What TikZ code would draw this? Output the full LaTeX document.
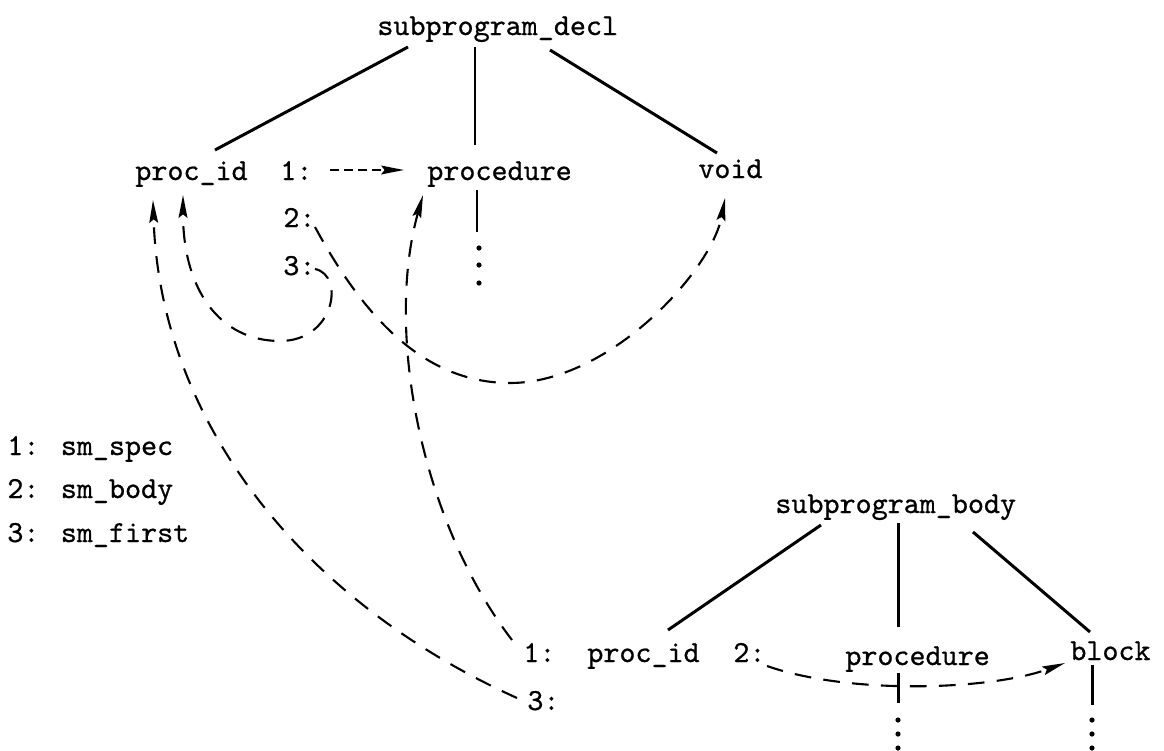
\documentclass[tikz,border=0pt]{standalone}
\usepackage{fontspec}
\usetikzlibrary{arrows.meta}
% slightly heavier typewriter face for the labels
\newfontfamily\typface{lmmono10-regular.otf}[FakeBold=0.7]
\begin{document}
\begin{tikzpicture}[x=0.02cm,y=-0.02cm,
  lbl/.style={anchor=base west,inner sep=0pt,font=\fontsize{17.4}{20}\typface},
  edge/.style={line width=1.7pt},
  ref/.style={line width=1.2pt,dash pattern=on 9.5pt off 7pt,
              -{Stealth[length=13pt,width=5pt,inset=2pt]}},
  shortref/.style={ref,dash pattern=on 5pt off 3pt},
  dotmark/.style={fill=black,draw=none}]
\useasboundingbox (0,0) rectangle (1164,751);

% subprogram_decl tree
\node[lbl] (dec)   at (377,35)  {subprogram\_decl};
\node[lbl] (pid)   at (135,180) {proc\_id};
\node[lbl] (k1)    at (280,180) {1:};
\node[lbl] (proc)  at (427,180) {procedure};
\node[lbl] (void)  at (698,178) {void};
\node[lbl] (k2)    at (283,227) {2:};
\node[lbl] (k3)    at (283,275) {3:};

% legend
\node[lbl] (leg1) at (7,455) {1: sm\_spec};
\node[lbl] (leg2) at (7,498) {2: sm\_body};
\node[lbl] (leg3) at (7,542) {3: sm\_first};

% subprogram_body tree
\node[lbl] (body)  at (775,513) {subprogram\_body};
\node[lbl] (b1)    at (523,662) {1:};
\node[lbl] (bpid)  at (587,662) {proc\_id};
\node[lbl] (b2)    at (733,662) {2:};
\node[lbl] (bproc) at (845,665) {procedure};
\node[lbl] (blk)   at (1070,660) {block};
\node[lbl] (b3)    at (527,710) {3:};

% attachment points of the connectors
\coordinate (decL) at (408,47);   \coordinate (pidT)  at (215,150);
\coordinate (decM) at (475,47);   \coordinate (procT) at (475,145);
\coordinate (decR) at (550,50);   \coordinate (voidT) at (717,153);
\coordinate (bodyL) at (821,525); \coordinate (bpidT)  at (668,630);
\coordinate (bodyM) at (898,523); \coordinate (bprocT) at (898,627);
\coordinate (bodyR) at (973,532); \coordinate (blkT)   at (1090,632);

\coordinate (k1out) at (330,170);  \coordinate (procW) at (404,170);
\coordinate (k2out) at (315,227);  \coordinate (voidB) at (725,198);
\coordinate (k3out) at (315,269);  \coordinate (pidB2) at (183,195);
\coordinate (b1out) at (512,640);  \coordinate (procB) at (423,195);
\coordinate (b3out) at (517,698);  \coordinate (pidB1) at (153,200);
\coordinate (b2out) at (767,666);  \coordinate (blkW)  at (1065,663);

% structural edges
\draw[edge] (decL) -- (pidT);
\draw[edge] (decM) -- (procT);
\draw[edge] (decR) -- (voidT);
\draw[edge] (bodyL) -- (bpidT);
\draw[edge] (bodyM) -- (bprocT);
\draw[edge] (bodyR) -- (blkT);

% elided subtrees
\draw[edge] (477,190) -- (477,232);
\foreach \y in {248,265,283} \fill[dotmark] (479,\y) circle (2.6);
\draw[edge] (898,673) -- (898,703);
\foreach \y in {720,734,748} \fill[dotmark] (898,\y) circle (2.6);
\draw[edge] (1092,665) -- (1092,705);
\foreach \y in {720,734,748} \fill[dotmark] (1092,\y) circle (2.6);

% semantic references
\draw[shortref] (k1out) -- (procW);
\draw[ref] (k2out) .. controls (360,310) and (420,383) .. (510,383)
                   .. controls (610,383) and (712,270) .. (voidB);
\draw[ref] (k3out) .. controls (345,275) and (335,341) .. (280,341)
                   .. controls (220,341) and (183,290) .. (pidB2);
\draw[ref] (b1out) .. controls (420,520) and (385,330) .. (procB);
\draw[ref] (b3out) .. controls (300,600) and (160,420) .. (pidB1);
\draw[ref] (b2out) .. controls (850,695) and (990,690) .. (blkW);
\end{tikzpicture}
\end{document}
